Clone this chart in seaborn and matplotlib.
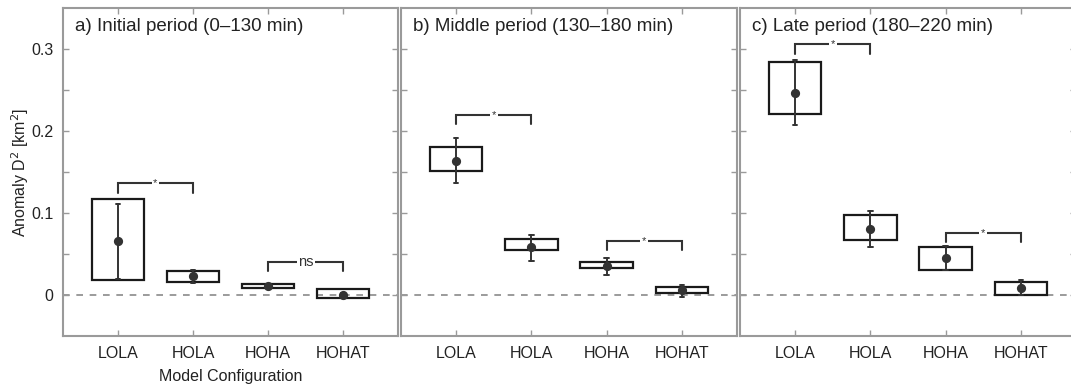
import numpy as np
import pandas as pd
import matplotlib
matplotlib.use("Agg")
import matplotlib.pyplot as plt
import seaborn as sns

# ---------------- data ----------------
configs = ["LOLA", "HOLA", "HOHA", "HOHAT"]
panel_titles = ["a) Initial period (0\u2013130 min)",
                "b) Middle period (130\u2013180 min)",
                "c) Late period (180\u2013220 min)"]

# panel a
a_box_lo = [0.018, 0.016, 0.009, -0.004]
a_box_hi = [0.117, 0.029, 0.014, 0.007]
a_mean = [0.066, 0.023, 0.011, 0.000]
a_err_lo = [0.020, 0.015, 0.009, -0.003]
a_err_hi = [0.111, 0.031, 0.013, 0.003]
# panel b
b_box_lo = [0.151, 0.055, 0.033, 0.002]
b_box_hi = [0.181, 0.068, 0.040, 0.010]
b_mean = [0.164, 0.058, 0.035, 0.006]
b_err_lo = [0.136, 0.042, 0.025, -0.003]
b_err_hi = [0.192, 0.073, 0.045, 0.012]
# panel c
c_box_lo = [0.221, 0.067, 0.031, 0.000]
c_box_hi = [0.284, 0.098, 0.059, 0.016]
c_mean = [0.246, 0.081, 0.045, 0.009]
c_err_lo = [0.207, 0.059, 0.030, 0.000]
c_err_hi = [0.286, 0.103, 0.060, 0.018]

# significance brackets: (first config, second config, height, label)
a_brackets = [("LOLA", "HOLA", 0.136, "*"), ("HOHA", "HOHAT", 0.040, "ns")]
b_brackets = [("LOLA", "HOLA", 0.2195, "*"), ("HOHA", "HOHAT", 0.066, "*")]
c_brackets = [("LOLA", "HOLA", 0.3055, "*"), ("HOHA", "HOHAT", 0.0757, "*")]

y_ticks = [0, 0.05, 0.1, 0.15, 0.2, 0.25, 0.3]
y_ticklabels = ["0", "", "0.1", "", "0.2", "", "0.3"]

panels = [
    (a_box_lo, a_box_hi, a_mean, a_err_lo, a_err_hi, a_brackets),
    (b_box_lo, b_box_hi, b_mean, b_err_lo, b_err_hi, b_brackets),
    (c_box_lo, c_box_hi, c_mean, c_err_lo, c_err_hi, c_brackets),
]

# ---------------- style ----------------
sns.set_style("white")
plt.rcParams["font.family"] = ["Liberation Sans", "DejaVu Sans"]
TXT = "#222222"
plt.rcParams["text.color"] = TXT
plt.rcParams["axes.labelcolor"] = TXT
plt.rcParams["xtick.color"] = TXT
plt.rcParams["ytick.color"] = TXT

fig = plt.figure(figsize=(10.71, 3.88), dpi=100)
W, H = 1071.0, 388.0
lefts = [63, 401, 740]
widths = [335, 336, 336]
top_px, bot_px = 8, 336

SPINE = "#9a9a9a"

for k, (lo, hi, mean, elo, ehi, brackets) in enumerate(panels):
    ax = fig.add_axes([lefts[k] / W, (H - bot_px) / H, widths[k] / W, (bot_px - top_px) / H])

    # zero reference line
    ax.axhline(0, color="#8a8a8a", lw=1.2, ls=(0, (4, 4)), zorder=0)

    # boxes (hollow rectangles from lo to hi)
    heights = [h - l for h, l in zip(hi, lo)]
    sns.barplot(x=configs, y=heights, order=configs, bottom=lo, fill=False,
                color="#1a1a1a", width=0.7, linewidth=1.6, errorbar=None, ax=ax)

    # mean with error bars
    df = pd.DataFrame({
        "cfg": configs * 3,
        "val": list(elo) + list(mean) + list(ehi),
    })
    sns.pointplot(data=df, x="cfg", y="val", order=configs, estimator="median",
                  errorbar=lambda v: (v.min(), v.max()), color="#333333",
                  markers="o", markersize=4.6, linestyle="none", capsize=0.06,
                  err_kws={"linewidth": 1.4}, ax=ax)

    # significance brackets
    d = 0.011
    for c1, c2, yb, lab in brackets:
        i, j = configs.index(c1), configs.index(c2)
        ax.plot([i, i, j, j], [yb - d, yb, yb, yb - d], color="#333333", lw=1.5,
                solid_joinstyle="miter")
        if lab == "*":
            ax.text((i + j) / 2, yb, lab, ha="center", va="center", fontsize=8,
                    color="#333333",
                    bbox=dict(fc="white", ec="none", pad=1.2))
        else:
            ax.text((i + j) / 2, yb, lab, ha="center", va="center", fontsize=10.5,
                    color="#333333",
                    bbox=dict(fc="white", ec="none", pad=0.8))

    ax.set_xlim(-0.73, 3.73)
    ax.set_ylim(-0.05, 0.35)
    ax.set_yticks(y_ticks)
    if k == 0:
        ax.set_yticklabels(y_ticklabels, fontsize=11.5)
        ax.set_ylabel("Anomaly D$^2$ [km$^2$]", fontsize=11.5, labelpad=0)
        ax.set_xlabel("Model Configuration", fontsize=11.5, labelpad=6)
    else:
        ax.set_yticklabels([])
        ax.set_ylabel("")
        ax.set_xlabel("")
    ax.set_xticks(range(len(configs)))
    ax.set_xticklabels(configs, fontsize=11.5)
    ax.tick_params(axis="both", direction="in", length=4, width=1, color=SPINE,
                   top=True, right=True, left=True, bottom=True, pad=7)
    for sp in ax.spines.values():
        sp.set_color(SPINE)
        sp.set_linewidth(1.5)
        sp.set_visible(True)

    ax.text(0.035, 0.945, panel_titles[k], transform=ax.transAxes, ha="left",
            va="center", fontsize=13.5, color=TXT)

fig.savefig("out.png", dpi=100)
